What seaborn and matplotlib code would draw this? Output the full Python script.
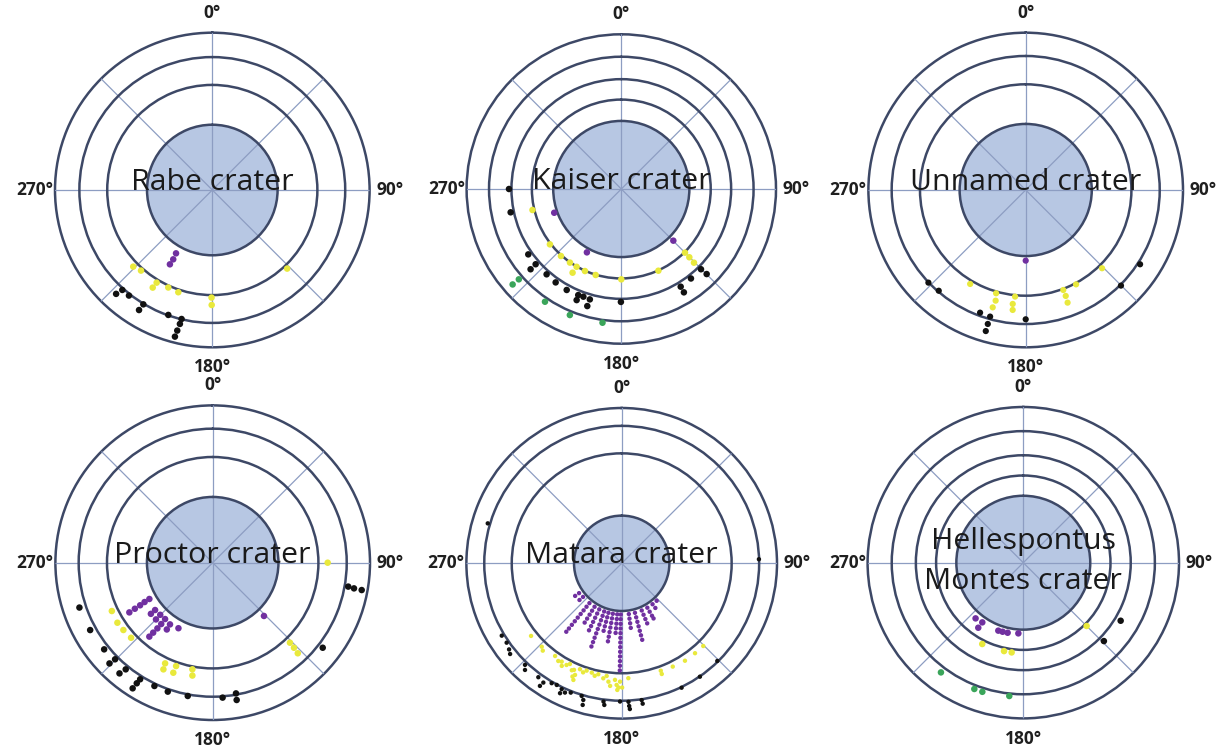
import numpy as np
import pandas as pd
import matplotlib.pyplot as plt
import seaborn as sns

# ---- data: (angle in degrees clockwise from north, normalised radius) ----
RABE_RINGS = [0.415, 0.668, 0.845]
RABE_PURPLE = [(209.8, .464), (209.4, .506), (209.7, .544)]
RABE_YELLOW = [(225.9, .70), (221.5, .684), (211.0, .687), (211.4, .727), (204.3, .68),
               (198.4, .685), (180.4, .684), (180.3, .731), (136.4, .69)]
RABE_BLACK = [(222.8, .90), (222.0, .855), (218.3, .855), (211.1, .849), (211.4, .894),
              (199.4, .842), (193.4, .843), (193.6, .876), (194.0, .921), (194.3, .962)]

KAISER_RINGS = [0.44, 0.578, 0.71, 0.855]
KAISER_PURPLE = [(250.5, .46), (208.5, .466), (134.8, .474)]
KAISER_YELLOW = [(256.7, .59), (232.2, .584), (222.0, .583), (214.9, .58), (209.9, .58),
                 (210.2, .626), (203.9, .58), (196.6, .58), (180.0, .584), (155.6, .58),
                 (135.0, .582), (135.1, .623), (135.4, .669)]
KAISER_BLACK = [(270.0, .726), (258.1, .731), (234.9, .735), (228.7, .737), (228.5, .783),
                (221.2, .733), (215.1, .738), (208.4, .742), (202.1, .74), (199.4, .738),
                (201.9, .774), (195.9, .742), (196.2, .788), (180.2, .73), (135.2, .731),
                (134.9, .779), (142.1, .733), (148.7, .739), (148.8, .781)]
KAISER_GREEN = [(228.7, .935), (228.6, .883), (214.1, .88), (202.2, .88), (188.0, .873)]

UNNAMED_RINGS = [0.42, 0.672, 0.852]
UNNAMED_PURPLE = [(180.0, .449)]
UNNAMED_YELLOW = [(210.6, .694), (196.0, .683), (195.2, .729), (195.7, .775), (185.7, .681),
                  (186.5, .729), (186.2, .767), (159.4, .679), (159.3, .72), (159.6, .764),
                  (151.9, .68), (135.7, .695)]
UNNAMED_BLACK = [(226.4, .854), (220.8, .846), (200.4, .832), (195.7, .836), (195.8, .885),
                 (195.8, .932), (180.0, .822), (135.1, .858), (123.0, .867)]

PROCTOR_RINGS = [0.418, 0.672, 0.852]
PROCTOR_PURPLE = [(240.2, .464), (240.0, .50), (239.6, .535), (239.4, .575), (239.2, .617),
                  (230.6, .474), (230.4, .51), (225.2, .47), (225.0, .51),
                  (220.2, .469), (220.0, .509), (220.1, .546), (220.4, .584), (220.6, .619),
                  (214.7, .477), (214.5, .515), (207.6, .47), (136.1, .47)]
PROCTOR_YELLOW = [(90.0, .731), (136.0, .707), (136.3, .748), (136.8, .79), (244.4, .711),
                  (237.8, .716), (233.0, .711), (227.4, .705), (205.3, .708), (204.8, .747),
                  (199.5, .697), (199.7, .743), (190.8, .69), (190.2, .729)]
PROCTOR_BLACK = [(100.0, .875), (100.3, .913), (100.4, .963), (127.7, .884), (251.4, .894),
                 (241.2, .889), (231.4, .883), (225.7, .917), (225.3, .873), (220.1, .92),
                 (219.2, .875), (211.9, .873), (212.2, .906), (212.5, .947), (205.3, .867),
                 (199.2, .868), (190.6, .862), (175.8, .86), (169.9, .844), (170.1, .886)]

MATARA_RINGS = [0.307, 0.708, 0.885]
# purple streaks: angle, radii of the dots along the streak
MATARA_PURPLE_RAYS = [
    (235, [.335, .366]),
    (229, [.33, .36]),
    (219, [.33, .36, .39, .42, .45, .48, .51, .54, .567]),
    (212, [.33, .36, .39, .42, .45]),
    (206, [.33, .36, .39, .42, .45, .48]),
    (200, [.33, .36, .39, .42, .45, .48, .51, .54, .57]),
    (195, [.33, .36, .39, .42, .45]),
    (190, [.33, .36, .39, .42, .45, .48, .51]),
    (185, [.33, .36, .39, .42, .45]),
    (181, [.33, .36, .39, .42, .45, .48, .51, .54, .57, .60, .63, .66, .69]),
    (172, [.33, .36, .39, .42]),
    (165, [.33, .36, .39, .42, .45, .48, .51]),
    (157, [.33, .36, .39, .42]),
    (150, [.33, .36, .39, .41]),
    (143, [.33, .36]),
    (137, [.33]),
]
MATARA_YELLOW = [(231.3, .748), (223.8, .744), (222.1, .758), (215.7, .735), (213.0, .75),
                 (211.4, .742), (210.3, .765), (208.5, .745), (207.2, .729), (205.0, .76),
                 (204.1, .752), (203.5, .795), (202.7, .779), (202.5, .813), (201.5, .733),
                 (199.5, .745), (198.1, .727), (195.3, .73), (193.5, .745), (191.9, .73),
                 (189.1, .75), (187.6, .732), (186.4, .767), (185.4, .793), (183.3, .752),
                 (182.4, .784), (182.0, .816), (181.5, .80), (180.8, .762), (179.8, .80),
                 (176.7, .741), (160.0, .736), (160.1, .758), (153.7, .742), (147.0, .748),
                 (140.8, .747), (135.4, .748)]
MATARA_BLACK = [(286.6, .90), (88.3, .884), (238.9, .902), (235.4, .90), (232.6, .913),
                (230.9, .926), (223.6, .903), (222.2, .927), (216.2, .909), (213.3, .919),
                (213.7, .949), (210.3, .894), (208.1, .888), (205.5, .898), (205.4, .926),
                (203.7, .909), (201.5, .895), (196.8, .892), (195.7, .914), (195.4, .946),
                (187.5, .898), (187.0, .919), (180.7, .89), (177.2, .893), (177.0, .92),
                (176.8, .94), (171.7, .89), (171.5, .914), (154.3, .889), (145.4, .887),
                (135.6, .88)]

HELLES_RINGS = [0.43, 0.56, 0.69, 0.845]
HELLES_PURPLE = [(220.6, .471), (214.5, .465), (214.7, .508), (200.2, .465), (196.7, .463),
                 (192.6, .461), (184.0, .455)]
HELLES_YELLOW = [(206.8, .585), (192.3, .581), (187.4, .581), (135.0, .575)]
HELLES_BLACK = [(120.8, .728), (134.2, .722)]
HELLES_GREEN = [(216.9, .881), (201.2, .87), (197.6, .87), (186.0, .861)]

COLORS = {"purple": "#7030a0", "yellow": "#e9e93c", "black": "#111111", "green": "#3aa55a"}


def frame(**groups):
    rows = []
    for kind, pts in groups.items():
        for ang, r in pts:
            rows.append({"theta": np.radians(ang), "r": r, "kind": kind})
    return pd.DataFrame(rows)


matara_purple = [(a, r) for a, radii in MATARA_PURPLE_RAYS for r in radii]

panels = [
    (["Rabe crater"], RABE_RINGS, frame(purple=RABE_PURPLE, yellow=RABE_YELLOW, black=RABE_BLACK), 22),
    (["Kaiser crater"], KAISER_RINGS, frame(purple=KAISER_PURPLE, yellow=KAISER_YELLOW,
                                              black=KAISER_BLACK, green=KAISER_GREEN), 22),
    (["Unnamed crater"], UNNAMED_RINGS, frame(purple=UNNAMED_PURPLE, yellow=UNNAMED_YELLOW,
                                               black=UNNAMED_BLACK), 20),
    (["Proctor crater"], PROCTOR_RINGS, frame(purple=PROCTOR_PURPLE, yellow=PROCTOR_YELLOW,
                                               black=PROCTOR_BLACK), 22),
    (["Matara crater"], MATARA_RINGS, frame(purple=matara_purple, yellow=MATARA_YELLOW,
                                             black=MATARA_BLACK), 10),
    (["Hellespontus", "Montes crater"], HELLES_RINGS, frame(purple=HELLES_PURPLE, yellow=HELLES_YELLOW,
                                                            black=HELLES_BLACK, green=HELLES_GREEN), 22),
]

# panel centre / radius in pixels of the 1230x747 canvas
layout = [(212.3, 190, 157.3), (621.3, 189, 154.7), (1025.7, 190, 157.3),
          (212.7, 562.7, 157.3), (621.7, 563.3, 155.3), (1023.3, 562.7, 155.7)]

sns.set_style("white")
plt.rcParams['font.family'] = ['Open Sans', 'DejaVu Sans']

W, H = 1230, 747
fig = plt.figure(figsize=(W / 100, H / 100), dpi=100)

ring_col = "#3d4866"
spoke_col = "#8d9dc2"
disk_col = "#b7c7e3"

for (name, rings, df, size), (cx, cy, R) in zip(panels, layout):
    ax = fig.add_axes([(cx - R) / W, 1 - (cy + R) / H, 2 * R / W, 2 * R / H], projection="polar")
    ax.set_theta_zero_location("N")
    ax.set_theta_direction(-1)
    ax.bar(0, rings[0], width=2 * np.pi, bottom=0, color=disk_col, edgecolor="none", zorder=1)
    sns.scatterplot(data=df, x="theta", y="r", hue="kind", palette=COLORS, s=size,
                    linewidth=0, legend=False, ax=ax, zorder=4)
    ax.set_xlabel("")
    ax.set_ylabel("")
    ax.set_ylim(0, 1)
    ax.set_yticks(rings)
    ax.set_yticklabels([])
    ax.set_xticks(np.radians(np.arange(0, 360, 45)))
    ax.set_xticklabels(["0°", "", "90°", "", "180°", "", "270°", ""],
                       fontweight="bold", fontsize=12.5, color="#1f1f1f")
    ax.tick_params(axis="x", pad=4)
    ax.xaxis.grid(True, color=spoke_col, lw=0.9)
    ax.yaxis.grid(True, color=ring_col, lw=1.8)
    ax.spines["polar"].set_color(ring_col)
    ax.spines["polar"].set_linewidth(1.8)
    ax.set_axisbelow(False)

    if len(name) == 1:
        ax.text(0.5, 0.5, name[0], transform=ax.transAxes, ha="center", va="baseline",
                fontsize=21.8, color="#1a1a1a", zorder=5)
    else:
        ax.text(0.5, 0.545, name[0], transform=ax.transAxes, ha="center", va="baseline",
                fontsize=21.8, color="#1a1a1a", zorder=5)
        ax.text(0.5, 0.416, name[1], transform=ax.transAxes, ha="center", va="baseline",
                fontsize=21.8, color="#1a1a1a", zorder=5)

fig.savefig("out.png", dpi=100)
